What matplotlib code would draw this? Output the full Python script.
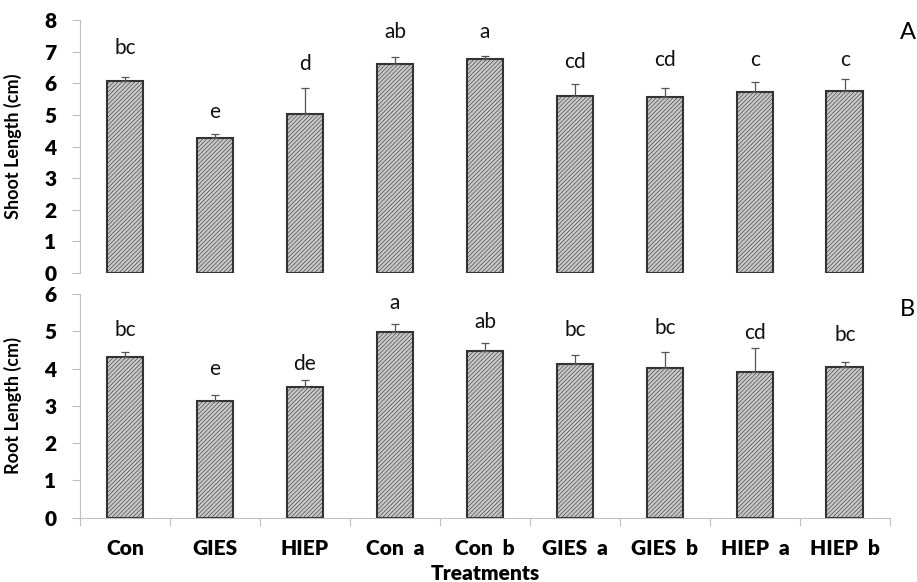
import numpy as np
import matplotlib.pyplot as plt

treatments = ["Con", "GIES", "HIEP", "Con  a", "Con  b", "GIES  a", "GIES  b", "HIEP  a", "HIEP  b"]

shoot = [6.06, 4.26, 5.02, 6.61, 6.77, 5.60, 5.57, 5.71, 5.77]
shoot_err = [0.15, 0.14, 0.82, 0.22, 0.10, 0.37, 0.27, 0.34, 0.36]
shoot_letters = ["bc", "e", "d", "ab", "a", "cd", "cd", "c", "c"]
shoot_letter_y = [7.12, 5.09, 6.61, 7.63, 7.63, 6.68, 6.74, 6.74, 6.74]

root = [4.32, 3.13, 3.51, 4.97, 4.47, 4.11, 4.02, 3.90, 4.03]
root_err = [0.13, 0.16, 0.18, 0.22, 0.21, 0.25, 0.43, 0.64, 0.15]
root_letters = ["bc", "e", "de", "a", "ab", "bc", "bc", "cd", "bc"]
root_letter_y = [5.03, 3.98, 4.11, 5.75, 5.26, 5.03, 5.08, 4.95, 4.90]

plt.rcParams['font.family'] = ['Lato', 'DejaVu Sans']
plt.rcParams['hatch.color'] = '#acacac'
plt.rcParams['hatch.linewidth'] = 0.4

fig = plt.figure(figsize=(9.17, 5.82), dpi=100)
ax1 = fig.add_axes([0.0872, 0.5309, 0.8833, 0.4347])
ax2 = fig.add_axes([0.0872, 0.1105, 0.8833, 0.3844])

x = np.arange(len(treatments))
axis_grey = '#c0c0c0'


def draw_panel(ax, vals, errs, letters, letter_y, ymax, ylabel, tag):
    ax.bar(x, vals, width=0.41, color='#c8c8c8', edgecolor='#333333',
           linewidth=1.5, hatch='////////', zorder=2)
    ax.errorbar(x, vals, yerr=[np.zeros(len(vals)), errs], fmt='none',
                ecolor='#555555', elinewidth=0.9, capsize=3, capthick=0.9, zorder=3)
    for xi, t, ty in zip(x, letters, letter_y):
        ax.text(xi, ty, t, ha='center', va='center', fontsize=15, color='#111111')
    ax.set_xlim(-0.5, len(vals) - 0.5)
    ax.set_ylim(0, ymax)
    ax.set_yticks(range(ymax + 1))
    ax.tick_params(axis='y', length=6, width=0.8, color=axis_grey, pad=11, labelsize=15)
    for lab in ax.get_yticklabels():
        lab.set_fontweight('heavy')
    ax.set_ylabel(ylabel, fontsize=13, fontweight='bold')
    for s in ['top', 'right']:
        ax.spines[s].set_visible(False)
    ax.spines['left'].set_color(axis_grey)
    ax.spines['bottom'].set_color(axis_grey)
    ax.text(1.012, ymax * (0.95 if tag == 'A' else 0.93), tag, transform=ax.get_yaxis_transform(),
            fontsize=17, ha='left', va='center')


draw_panel(ax1, shoot, shoot_err, shoot_letters, shoot_letter_y, 8, "Shoot Length (cm)", "A")
draw_panel(ax2, root, root_err, root_letters, root_letter_y, 6, "Root Length (cm)", "B")

ax1.spines['bottom'].set_visible(False)
ax1.set_xticks([])

ax2.set_xticks(x)
ax2.set_xticklabels(treatments, fontsize=15, fontweight='heavy')
ax2.set_xticks(np.arange(-0.5, len(treatments)), minor=True)
ax2.tick_params(axis='x', which='major', length=0, pad=15)
ax2.tick_params(axis='x', which='minor', length=6, width=0.8, color=axis_grey)
ax2.set_xlabel("Treatments", fontsize=15, fontweight='heavy', labelpad=5)
ax1.yaxis.set_label_coords(-0.072, 0.5)
ax2.yaxis.set_label_coords(-0.072, 0.5)

fig.savefig("out.png", dpi=100)
